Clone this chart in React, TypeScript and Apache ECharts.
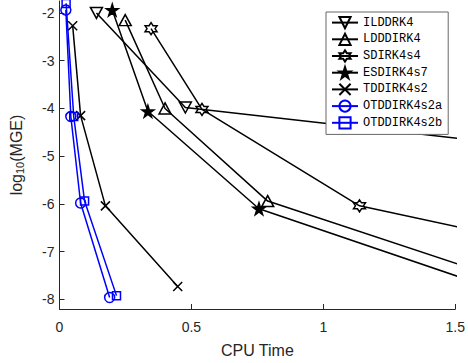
import React, { useEffect, useRef } from 'react';
import * as echarts from 'echarts';

const seriesNames = ['ILDDRK4', 'LDDDIRK4', 'SDIRK4s4', 'ESDIRK4s7', 'TDDIRK4s2', 'OTDDIRK4s2a', 'OTDDIRK4s2b'];
const ilddrk4 = [[0.14, -2.0], [0.477, -3.98], [2.4, -5.18]];
const ldddirk4 = [[0.249, -2.15], [0.4, -4.0], [0.789, -5.94], [2.2, -8.52]];
const sdirk4s4 = [[0.347, -2.33], [0.54, -4.02], [1.137, -6.04], [2.5, -7.66]];
const esdirk4s7 = [[0.2, -1.94], [0.335, -4.06], [0.756, -6.1], [2.0, -8.44]];
const tddirk4s2 = [[0.05, -2.27], [0.08, -4.15], [0.174, -6.04], [0.448, -7.73]];
const otddirk4s2a = [[0.024, -1.94], [0.043, -4.17], [0.08, -5.98], [0.19, -7.96]];
const otddirk4s2b = [[0.025, -1.8], [0.054, -4.17], [0.095, -5.94], [0.216, -7.92]];
const xTicks = [0, 0.5, 1, 1.5];
const yTicks = [-8, -7, -6, -5, -4, -3, -2];

function starPath(n: number, outer: number, inner: number): string {
  const pts: string[] = [];
  for (let i = 0; i < 2 * n; i++) {
    const a = (-90 + (i * 180) / n) * Math.PI / 180;
    const r = i % 2 === 0 ? outer : inner;
    pts.push((10 + r * Math.cos(a)).toFixed(3) + ',' + (10 + r * Math.sin(a)).toFixed(3));
  }
  return 'path://M' + pts.join('L') + 'Z';
}

const hexagram = starPath(6, 10, 10 / Math.sqrt(3));
const pentagram = starPath(5, 10, 3.82);
const cross = 'path://M0,0L10,10M10,0L0,10';

const BLACK = '#000000';
const BLUE = '#0000ff';
const AXIS = '#262626';
const FONT = '"Liberation Sans", Arial, Helvetica, sans-serif';

function mk(name: string, data: number[][], symbol: string, size: any, color: string, filled = false, rotate = 0) {
  return {
    name,
    type: 'line',
    data,
    symbol,
    symbolSize: size,
    symbolRotate: rotate,
    showAllSymbol: true,
    clip: true,
    silent: true,
    lineStyle: { color, width: 1.5 },
    itemStyle: { color: filled ? color : 'rgba(0,0,0,0)', borderColor: color, borderWidth: 1.5 },
    emphasis: { disabled: true },
  };
}

export default function App() {
  const ref = useRef<HTMLDivElement>(null);
  useEffect(() => {
    if (!ref.current) return;
    const chart = echarts.init(ref.current, null, { renderer: 'svg' });
    chart.setOption({
      animation: false,
      backgroundColor: '#ffffff',
      grid: { left: 55, right: 12, top: 1, bottom: 53, containLabel: false },
      xAxis: {
        type: 'value',
        min: 0,
        max: 1.5,
        name: 'CPU Time',
        nameLocation: 'middle',
        nameGap: 33,
        nameTextStyle: { fontFamily: FONT, fontSize: 16, color: AXIS },
        axisLine: { show: true, onZero: false, lineStyle: { color: AXIS, width: 1 } },
        axisTick: { show: true, inside: true, length: 5, customValues: xTicks, lineStyle: { color: AXIS } },
        axisLabel: {
          customValues: xTicks,
          margin: 11,
          fontFamily: FONT,
          fontSize: 14,
          color: AXIS,
          formatter: (v: number) => String(v),
        },
        splitLine: { show: false },
      },
      yAxis: {
        type: 'value',
        min: -8.2,
        max: -1.75,
        name: 'log{sub|10}(MGE)',
        nameLocation: 'middle',
        nameGap: 34,
        nameTextStyle: {
          fontFamily: FONT,
          fontSize: 16,
          color: AXIS,
          rich: { sub: { fontFamily: FONT, fontSize: 11, color: AXIS, padding: [8, 0, 0, 0] } },
        },
        axisLine: { show: true, onZero: false, lineStyle: { color: AXIS, width: 1 } },
        axisTick: { show: true, inside: true, length: 5, customValues: yTicks, lineStyle: { color: AXIS } },
        axisLabel: {
          customValues: yTicks,
          margin: 5,
          fontFamily: FONT,
          fontSize: 14,
          color: AXIS,
          formatter: (v: number) => String(v),
        },
        splitLine: { show: false },
      },
      legend: {
        orient: 'vertical',
        left: 326,
        top: 12,
        itemWidth: 26,
        itemHeight: 14,
        itemGap: 3.5,
        padding: [4, 6, 5, 5],
        borderColor: '#666666',
        borderWidth: 1,
        backgroundColor: '#ffffff',
        selectedMode: false,
        textStyle: { fontFamily: '"Liberation Mono", "DejaVu Sans Mono", monospace', fontSize: 12, color: '#000' },
        data: seriesNames,
      },
      series: [
        mk(seriesNames[0], ilddrk4, 'triangle', [12, 11], BLACK, false, 180),
        mk(seriesNames[1], ldddirk4, 'triangle', [12, 11], BLACK),
        mk(seriesNames[2], sdirk4s4, hexagram, 12, BLACK),
        mk(seriesNames[3], esdirk4s7, pentagram, 12, BLACK, true),
        mk(seriesNames[4], tddirk4s2, cross, 9, BLACK),
        mk(seriesNames[5], otddirk4s2a, 'circle', 10, BLUE),
        mk(seriesNames[6], otddirk4s2b, 'rect', 8, BLUE),
      ],
    });
    return () => chart.dispose();
  }, []);
  return <div ref={ref} style={{ position: 'fixed', left: 0, top: 0, width: 468, height: 363 }} />;
}
